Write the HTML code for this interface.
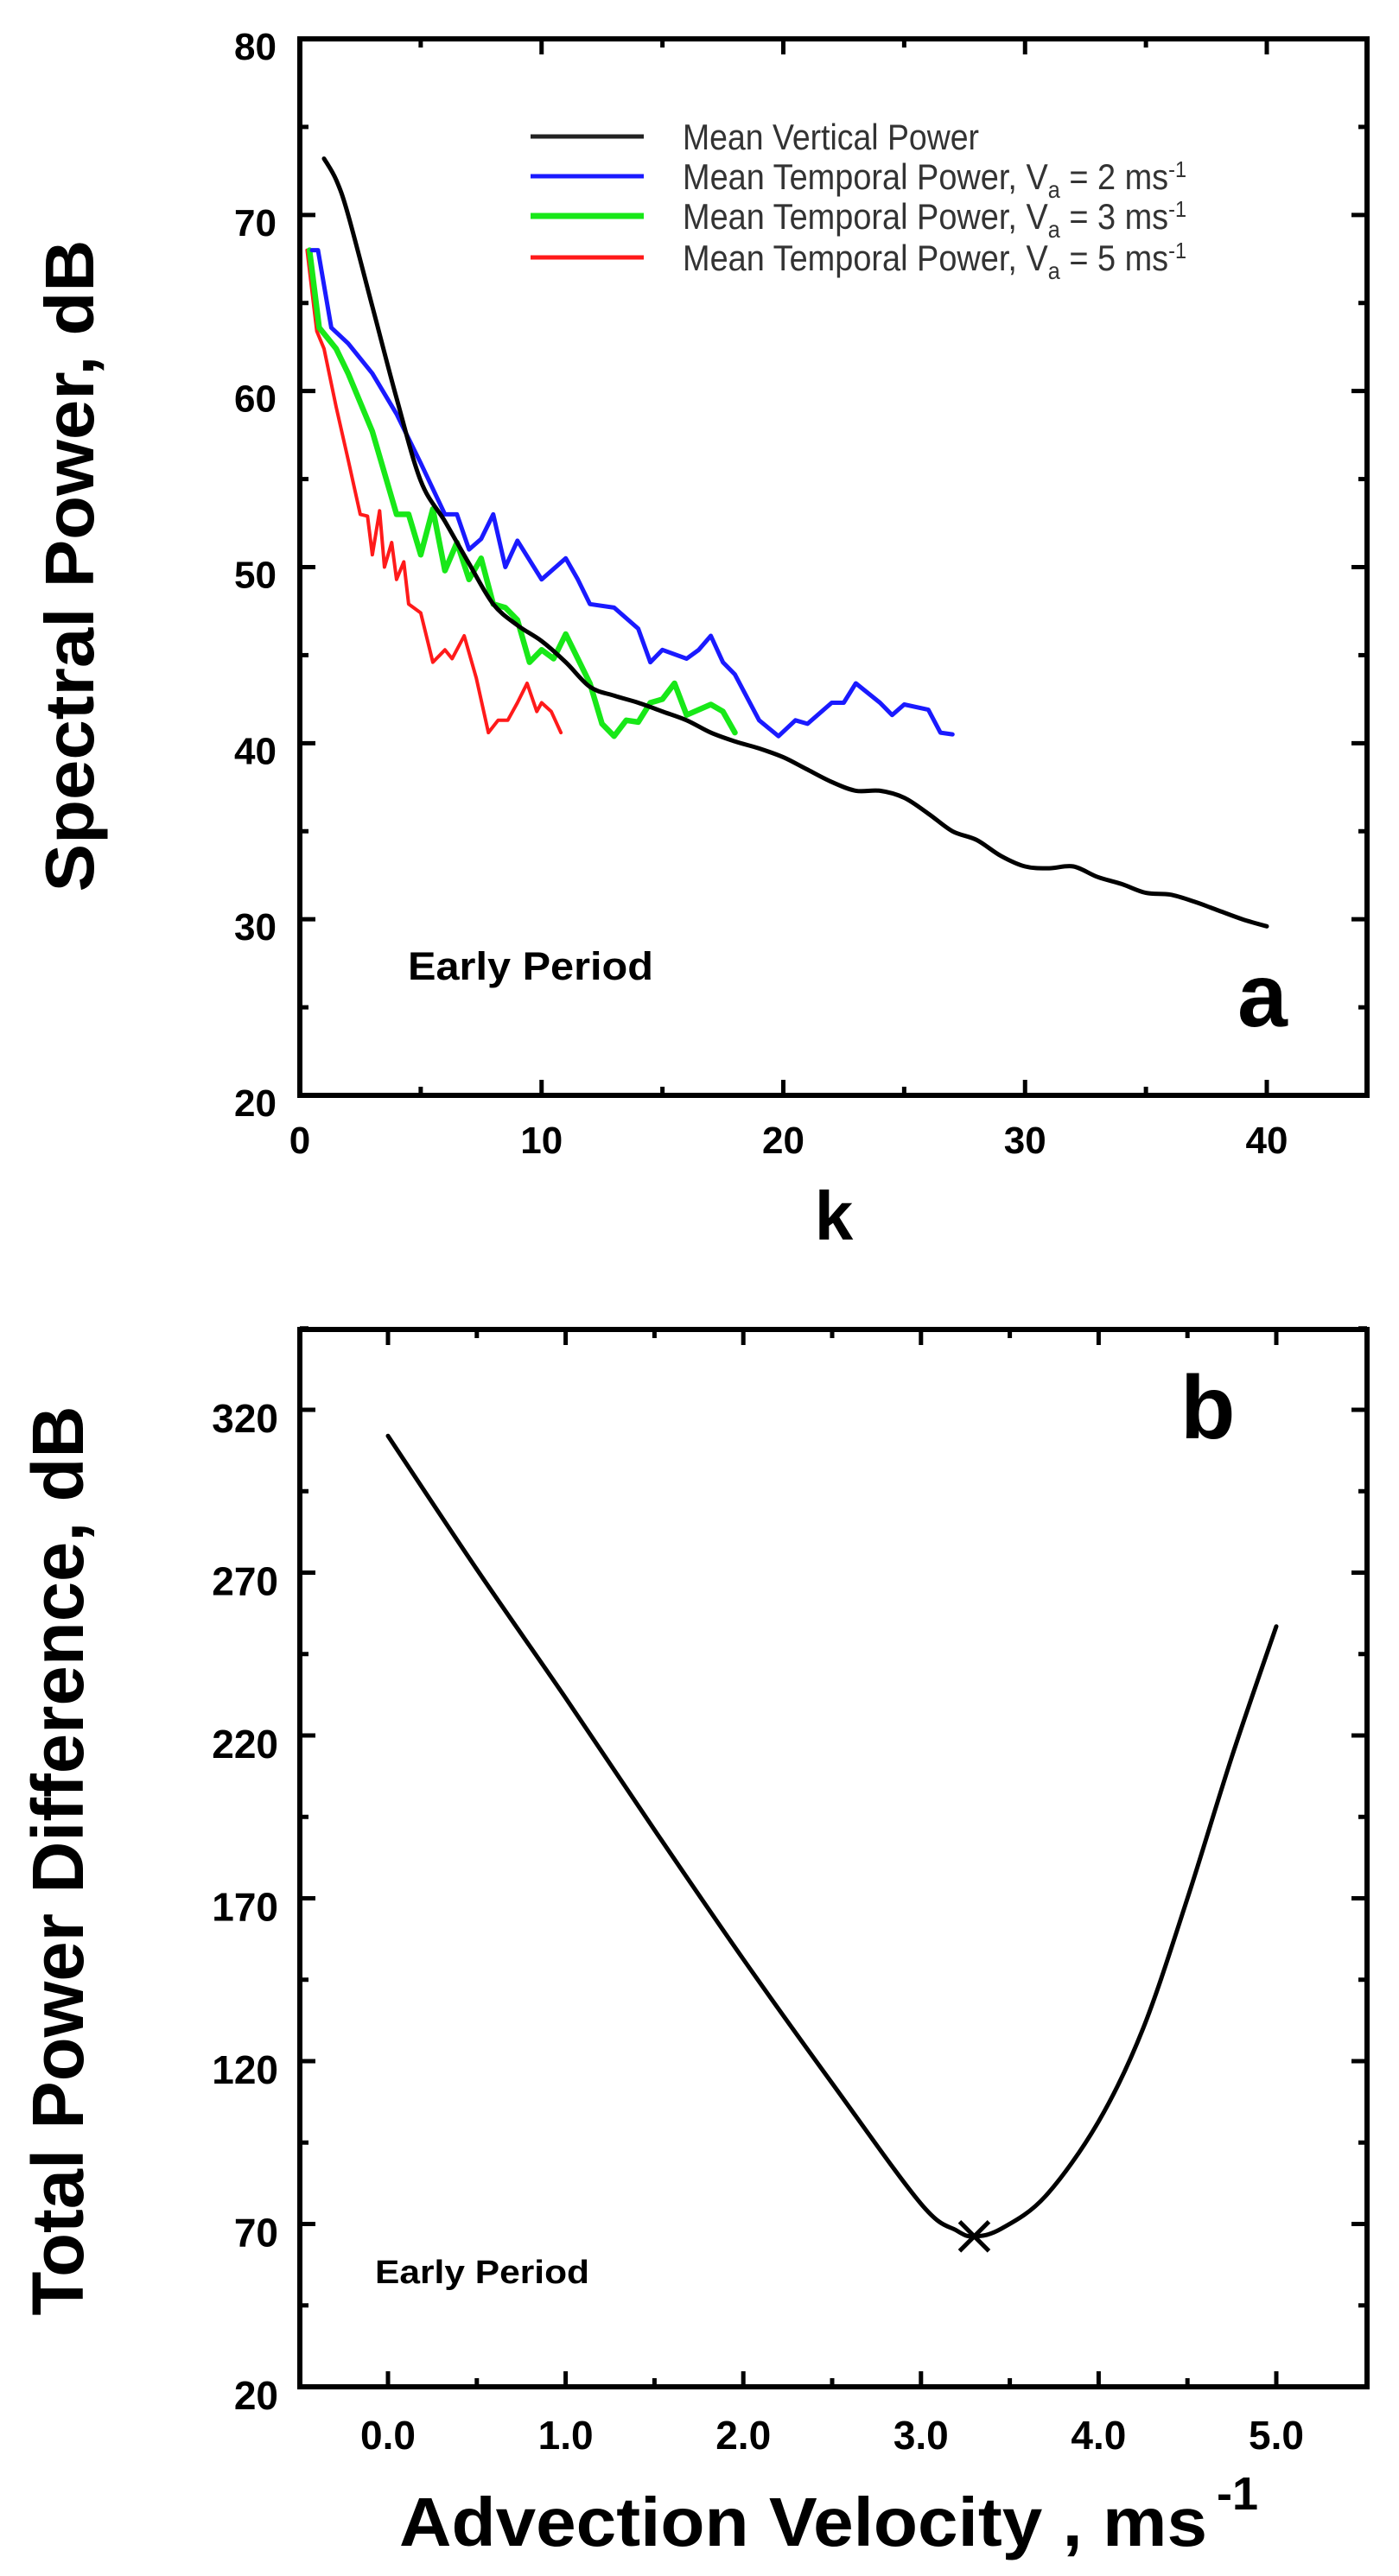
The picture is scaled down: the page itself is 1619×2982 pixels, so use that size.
<!DOCTYPE html>
<html><head><meta charset="utf-8">
<style>
html,body{margin:0;padding:0;background:#fff;}
svg{display:block;}
text{font-family:"Liberation Sans",Arial,sans-serif;}
</style></head>
<body>
<svg id="fig" width="1619" height="2982" viewBox="0 0 1619 2982" xmlns="http://www.w3.org/2000/svg">
<g id="chartA"></g>
<g id="chartB"></g>
</svg>
<script>
// ---- Chart a data ----
const blackK = [1,1.5,2,3,4,5,6,7,8,9,10,11,12,13,14,15,16,17,18,19,20,21,22,23,24,25,26,27,28,29,30,31,32,33,34,35,36,37,38,39,40];
const blackP = [73.2,72,70,64.8,59.6,54.9,52.6,50.2,47.9,46.7,45.8,44.6,43.2,42.7,42.3,41.8,41.3,40.6,40.1,39.7,39.2,38.5,37.8,37.3,37.3,36.9,36,35,34.5,33.6,33,32.9,33,32.4,32,31.5,31.4,31,30.5,30,29.6];
const blueK = [0.5,0.75,1.3,2,3,4,5,6,6.5,7,7.5,8,8.5,9,10,11,11.5,12,13,14,14.5,15,16,16.5,17,17.5,18,19,19.8,20.5,21,22,22.5,23,24,24.5,25,26,26.5,27];
const blueP = [68,68,63.6,62.7,61,58.7,55.9,53,53,51,51.6,53,50,51.5,49.3,50.5,49.3,47.9,47.7,46.5,44.6,45.3,44.8,45.3,46.1,44.6,43.9,41.3,40.4,41.3,41.1,42.3,42.3,43.4,42.3,41.6,42.2,41.9,40.6,40.5];
const greenK = [0.4,0.8,1.5,2,3,4,4.5,5,5.5,6,6.5,7,7.5,8,8.5,9,9.5,10,10.5,11,12,12.5,13,13.5,14,14.5,15,15.5,16,17,17.5,18];
const greenP = [68,63.6,62.4,61,57.7,53,53,50.7,53.3,49.8,51.4,49.3,50.5,47.9,47.7,47,44.6,45.3,44.8,46.2,43.4,41.1,40.4,41.3,41.2,42.3,42.5,43.4,41.6,42.2,41.8,40.6];
const redK = [0.3,0.7,1,1.5,2,2.5,2.8,3,3.3,3.5,3.8,4,4.3,4.5,5,5.5,6,6.3,6.8,7.3,7.8,8.2,8.6,9,9.4,9.8,10,10.4,10.8];
const redP = [68,63.4,62.4,59.1,56.1,53,52.9,50.7,53.2,50,51.4,49.3,50.3,47.9,47.4,44.6,45.3,44.8,46.1,43.7,40.6,41.3,41.3,42.3,43.4,41.8,42.3,41.8,40.6];
const aXTicks = [0,10,20,30,40];
const aYTicks = [20,30,40,50,60,70,80];
// ---- Chart b data ----
const bV = [0,0.5,1,1.5,2,2.5,3,3.2,3.3,3.45,3.7,4,4.25,4.5,4.75,5];
const bD = [312,271,231.5,191,151.3,113.2,76.2,68,66.2,68.5,78.5,101.5,130,170,213.5,253.5];
const bMinV = [3.3];
const bMinD = [66.2];
const bXTicks = [0,1,2,3,4,5];
const bXLabels = ["0.0","1.0","2.0","3.0","4.0","5.0"];
const bYTicks = [20,70,120,170,220,270,320];

const NS="http://www.w3.org/2000/svg";
function mk(parent,tag,attrs){const e=document.createElementNS(NS,tag);for(const k in attrs)e.setAttribute(k,attrs[k]);parent.appendChild(e);return e;}

// ---------- Chart a ----------
const A = document.getElementById('chartA');
const aL=347,aR=1582,aT=45,aB=1268;
const ax = k => aL + (k-0)/10*(1466-347)/4;
const ay = p => aT + (80-p)/60*(aB-aT);
for(let v=20; v<=80; v+=5){
  const y=ay(v), len = v%10===0?18:10;
  const t1=mk(A,'line',{x1:aL,y1:y,x2:aL+len,y2:y,stroke:'#000','stroke-width':5});
  
  
  const t2=mk(A,'line',{x1:aR,y1:y,x2:aR-len,y2:y,stroke:'#000','stroke-width':5});
  
  
}
for(let v=0; v<=44; v+=5){
  const x=ax(v), len = v%10===0?18:10;
  const t1=mk(A,'line',{x1:x,y1:aB,x2:x,y2:aB-len,stroke:'#000','stroke-width':5});
  
  
  const t2=mk(A,'line',{x1:x,y1:aT,x2:x,y2:aT+len,stroke:'#000','stroke-width':5});
  
  
}
const frA=mk(A,'rect',{x:aL,y:aT,width:aR-aL,height:aB-aT,fill:'none',stroke:'#000','stroke-width':6});


aYTicks.forEach(v=>{
  const t=mk(A,'text',{x:320,y:ay(v)+24,'text-anchor':'end','font-size':44,'font-weight':'bold'});
  t.textContent=v;
  
  
});
aXTicks.forEach(v=>{
  const t=mk(A,'text',{x:ax(v),y:1335,'text-anchor':'middle','font-size':44,'font-weight':'bold'});
  t.textContent=v;
  
  
});
function series(parent,xs,ys,fx,fy,color,w,name,smooth){
  const P=xs.map((x,i)=>[fx(x),fy(ys[i])]);
  let d='M'+P[0][0].toFixed(1)+' '+P[0][1].toFixed(1);
  for(let i=1;i<P.length;i++){
    if(smooth){
      const p0=P[Math.max(0,i-2)],p1=P[i-1],p2=P[i],p3=P[Math.min(P.length-1,i+1)];
      const c1=[p1[0]+(p2[0]-p0[0])/6,p1[1]+(p2[1]-p0[1])/6];
      const c2=[p2[0]-(p3[0]-p1[0])/6,p2[1]-(p3[1]-p1[1])/6];
      d+=` C${c1[0].toFixed(1)} ${c1[1].toFixed(1)} ${c2[0].toFixed(1)} ${c2[1].toFixed(1)} ${p2[0].toFixed(1)} ${p2[1].toFixed(1)}`;
    } else d+=` L${P[i][0].toFixed(1)} ${P[i][1].toFixed(1)}`;
  }
  const p=mk(parent,'path',{d:d,fill:'none',stroke:color,'stroke-width':w,'stroke-linejoin':'round','stroke-linecap':'round'});
  
  
}
series(A,redK,redP,ax,ay,'#ff1a1a',4,'series-va-5',false);
series(A,greenK,greenP,ax,ay,'#18e818',6.5,'series-va-3',false);
series(A,blueK,blueP,ax,ay,'#1a1aff',5,'series-va-2',false);
series(A,blackK,blackP,ax,ay,'#000',5,'series-mean-vertical',true);
// legend
const leg=mk(A,'g',{});


const legItems=[['#222',5,'Mean Vertical Power',null,158],['#1a1aff',5,'Mean Temporal Power, V','2',204],['#18e818',7,'Mean Temporal Power, V','3',250],['#ff1a1a',5,'Mean Temporal Power, V','5',298]];
legItems.forEach(it=>{
  const g=mk(leg,'g',{});
  
  
  mk(g,'line',{x1:614,y1:it[4],x2:745,y2:it[4],stroke:it[0],'stroke-width':it[1]});
  const t=mk(g,'text',{x:790,y:it[4]+15,'font-size':42,fill:'#333'});
  if(!it[3]){t.setAttribute('textLength',343);t.textContent=it[2];}
  else{
    const s1=mk(t,'tspan',{});s1.textContent=it[2];
    const s2=mk(t,'tspan',{dy:10,'font-size':28});s2.textContent='a';
    const s3=mk(t,'tspan',{dy:-10});s3.textContent=' = '+it[3]+' ms';
    const s4=mk(t,'tspan',{dy:-14,'font-size':26});s4.textContent='-1';
    t.setAttribute('textLength',583);
  }
  t.setAttribute('lengthAdjust','spacingAndGlyphs');
});
let t;
t=mk(A,'text',{x:472,y:1134,'font-size':45,'font-weight':'bold',textLength:284,lengthAdjust:'spacingAndGlyphs'});t.textContent='Early Period';

t=mk(A,'text',{x:1432,y:1188,'font-size':104,'font-weight':'bold'});t.textContent='a';

t=mk(A,'text',{x:965,y:1435,'text-anchor':'middle','font-size':80,'font-weight':'bold'});t.textContent='k';

t=mk(A,'text',{x:0,y:0,'text-anchor':'middle','font-size':80,'font-weight':'bold',textLength:755,lengthAdjust:'spacingAndGlyphs',transform:'translate(108,655) rotate(-90)'});t.textContent='Spectral Power, dB';


// ---------- Chart b ----------
const B=document.getElementById('chartB');
const bL=347,bR=1582,bT=1539,bB=2763;
const bx = v => 449 + v*(1477-449)/5;
const by = d => 1632 + (320-d)*(bB-1632)/300;
for(let v=20; v<=345; v+=25){
  const y=by(v), len=((v-20)%50===0)?18:10;
  const t1=mk(B,'line',{x1:bL,y1:y,x2:bL+len,y2:y,stroke:'#000','stroke-width':5});
  
  
  const t2=mk(B,'line',{x1:bR,y1:y,x2:bR-len,y2:y,stroke:'#000','stroke-width':5});
  
  
}
for(let v=0; v<=5.01; v+=0.5){
  const x=bx(v), len=(Math.abs(v-Math.round(v))<0.01)?18:10;
  const t1=mk(B,'line',{x1:x,y1:bB,x2:x,y2:bB-len,stroke:'#000','stroke-width':5});
  
  
  const t2=mk(B,'line',{x1:x,y1:bT,x2:x,y2:bT+len,stroke:'#000','stroke-width':5});
  
  
}
const frB=mk(B,'rect',{x:bL,y:bT,width:bR-bL,height:bB-bT,fill:'none',stroke:'#000','stroke-width':6});


bYTicks.forEach(v=>{
  const t=mk(B,'text',{x:322,y:by(v)+26,'text-anchor':'end','font-size':46,'font-weight':'bold'});
  t.textContent=v;
  
  
});
bXTicks.forEach((v,i)=>{
  const t=mk(B,'text',{x:bx(v),y:2835,'text-anchor':'middle','font-size':46,'font-weight':'bold'});
  t.textContent=bXLabels[i];
  
  
});
series(B,bV,bD,bx,by,'#000',5,'series-total-power-difference',true);
bMinV.forEach((v,i)=>{
  const cx=bx(v), cy=by(bMinD[i]), s=17;
  const m=mk(B,'path',{d:`M${cx-s} ${cy-s}L${cx+s} ${cy+s}M${cx-s} ${cy+s}L${cx+s} ${cy-s}`,stroke:'#000','stroke-width':5,fill:'none'});
  
  
});
t=mk(B,'text',{x:434,y:2643,'font-size':38,'font-weight':'bold',textLength:248,lengthAdjust:'spacingAndGlyphs'});t.textContent='Early Period';

t=mk(B,'text',{x:1366,y:1665,'font-size':104,'font-weight':'bold'});t.textContent='b';

t=mk(B,'text',{x:462,y:2947,'font-size':80,'font-weight':'bold',textLength:935,lengthAdjust:'spacingAndGlyphs'});t.textContent='Advection Velocity , ms';

t=mk(B,'text',{x:1408,y:2905,'font-size':54,'font-weight':'bold'});t.textContent='-1';

t=mk(B,'text',{x:0,y:0,'text-anchor':'middle','font-size':84,'font-weight':'bold',textLength:1053,lengthAdjust:'spacingAndGlyphs',transform:'translate(96,2154) rotate(-90)'});t.textContent='Total Power Difference, dB';

</script>
</body></html>
